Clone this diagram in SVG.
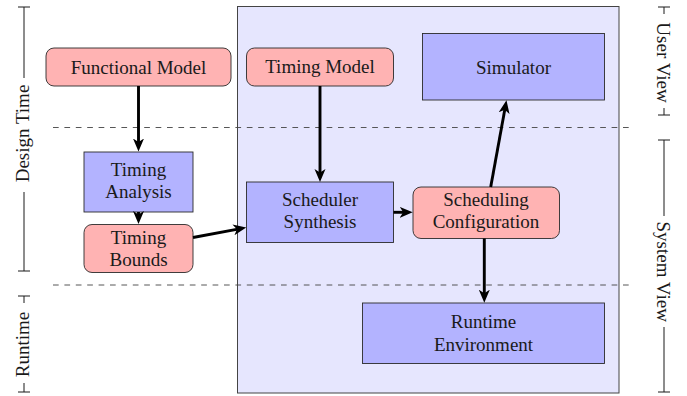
<svg xmlns="http://www.w3.org/2000/svg" width="687" height="396" viewBox="0 0 687 396">
<style>
text{font-family:"Liberation Serif","Times New Roman",serif;font-size:19px;fill:#1a1a1a;text-anchor:middle}
.pink{fill:#ffb3b3;stroke:#2a2a2a;stroke-width:0.9}
.blue{fill:#b3b3ff;stroke:#2a2a2a;stroke-width:0.9}
.dash{stroke:#444;stroke-width:0.9;stroke-dasharray:5.7 5.7;fill:none}
.br{stroke:#1a1a1a;stroke-width:1;fill:none}
.arr{stroke:#000;stroke-width:2.9;fill:none;marker-end:url(#st)}
</style>
<defs>
<marker id="st" markerUnits="userSpaceOnUse" viewBox="0 -6 13 12" markerWidth="13" markerHeight="12" refX="4.5" refY="0" orient="auto">
<path d="M0,-5.5 L13,0 L0,5.5 L3.5,0 z" fill="#000"/>
</marker>
</defs>
<rect id="container" x="237.5" y="6.5" width="381.5" height="386.5" fill="#e6e6fe" stroke="#444" stroke-width="1"/>
<g id="phases">
<line class="dash" x1="53" y1="127.5" x2="633" y2="127.5"/>
<line class="dash" x1="53" y1="285" x2="633" y2="285"/>
</g>
<g id="brackets">
<path class="br" d="M18,7 H30 M24,7 V78 M24,192 V271 M18,271 H30"/>
<text transform="translate(28.5,133.5) rotate(-90)">Design Time</text>
<path class="br" d="M18,296 H30 M24,296 V303 M24,383 V392 M18,392 H30"/>
<text transform="translate(28.5,344.5) rotate(-90)">Runtime</text>
<path class="br" d="M658,7 H670 M664,7 V14 M664,108 V115 M658,115 H670"/>
<text transform="translate(657,62.5) rotate(90)">User View</text>
<path class="br" d="M658,140 H670 M664,140 V216 M664,327 V392 M658,392 H670"/>
<text transform="translate(657,271.7) rotate(90)">System View</text>
</g>
<g id="functional-model">
<rect class="pink" x="46" y="48" width="185" height="38" rx="8"/>
<text x="138.5" y="73.5">Functional Model</text>
</g>
<g id="timing-analysis">
<rect class="blue" x="84" y="152" width="109" height="60"/>
<text x="138.5" y="175.5">Timing</text>
<text x="138.5" y="197.5">Analysis</text>
</g>
<g id="timing-bounds">
<rect class="pink" x="84" y="224.5" width="109" height="48" rx="8"/>
<text x="138.5" y="244">Timing</text>
<text x="138.5" y="266">Bounds</text>
</g>
<g id="timing-model">
<rect class="pink" x="246.5" y="48" width="147" height="38" rx="8"/>
<text x="320" y="73">Timing Model</text>
</g>
<g id="simulator">
<rect class="blue" x="422.5" y="33.5" width="182" height="66.5"/>
<text x="513.5" y="74">Simulator</text>
</g>
<g id="scheduler-synthesis">
<rect class="blue" x="246.5" y="182" width="147" height="60.5"/>
<text x="320" y="206">Scheduler</text>
<text x="320" y="228">Synthesis</text>
</g>
<g id="scheduling-configuration">
<rect class="pink" x="413" y="187" width="146.5" height="51.5" rx="8"/>
<text x="486" y="206">Scheduling</text>
<text x="486" y="228">Configuration</text>
</g>
<g id="runtime-environment">
<rect class="blue" x="362.5" y="303" width="242" height="60.5"/>
<text x="483.5" y="328">Runtime</text>
<text x="483.5" y="351">Environment</text>
</g>
<g id="connectors">
<line class="arr" x1="138.5" y1="86" x2="138.5" y2="143"/>
<line class="arr" x1="138.5" y1="212" x2="138.5" y2="215.5"/>
<line class="arr" x1="193" y1="237.5" x2="237.9" y2="229.1"/>
<line class="arr" x1="320" y1="86" x2="320" y2="173.5"/>
<line class="arr" x1="393.5" y1="212.3" x2="404.2" y2="212.3"/>
<line class="arr" x1="490.7" y1="187" x2="504.95" y2="108.7"/>
<line class="arr" x1="484.3" y1="238.5" x2="484.3" y2="294.2"/>
</g>
</svg>
